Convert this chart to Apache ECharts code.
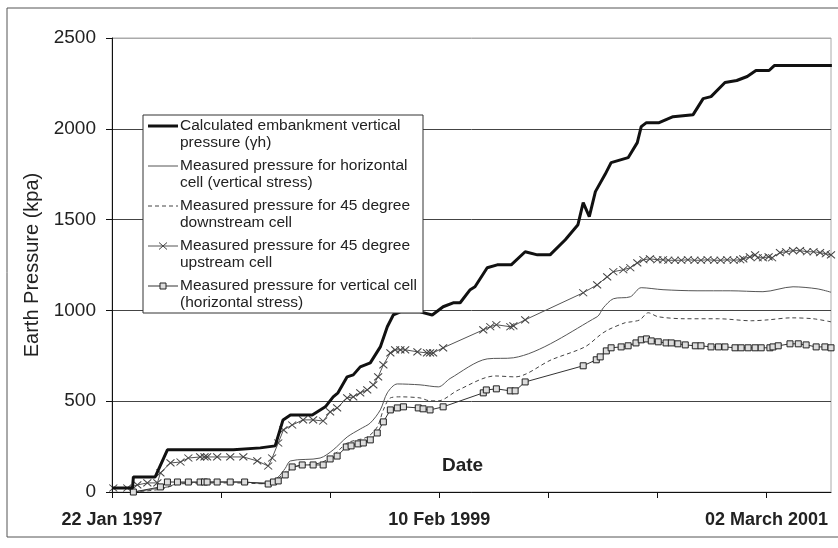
<!DOCTYPE html>
<html>
<head>
<meta charset="utf-8">
<title>Earth Pressure</title>
<script src="https://cdn.jsdelivr.net/npm/echarts@6/dist/echarts.min.js"></script>
<style>
  html, body { margin: 0; padding: 0; background: #fff; }
  #chart { width: 838px; height: 548px; }
</style>
</head>
<body>
<div id="chart"></div>
<script>
// x = days since 22 Jan 1997, y = earth pressure (kPa)
const tickDays = [0, 250, 500, 750, 1000, 1250, 1500]
const labelDays = [0, 750, 1500]
const dateLabels = ['22 Jan 1997', '10 Feb 1999', '02 March 2001']
const yTicks = [0, 500, 1000, 1500, 2000, 2500]

const seriesNames = [
  'Calculated embankment vertical\npressure (γh)',
  'Measured pressure for horizontal\ncell (vertical stress)',
  'Measured pressure for 45 degree\ndownstream cell',
  'Measured pressure for 45 degree\nupstream cell',
  'Measured pressure for vertical cell\n(horizontal stress)'
]

const calculated = [
  [0, 22], [47, 22], [49, 83], [99, 83], [127, 232], [278, 232], [340, 243], [374, 254],
  [392, 397], [409, 424], [459, 424], [489, 469], [507, 524], [518, 546], [539, 634],
  [553, 645], [569, 689], [592, 711], [615, 799], [631, 910], [645, 976], [661, 992],
  [706, 992], [734, 975], [759, 1020], [782, 1042], [798, 1042], [821, 1114], [832, 1130],
  [860, 1235], [883, 1251], [915, 1251], [947, 1323], [975, 1306], [1004, 1306],
  [1039, 1389], [1068, 1472], [1080, 1593], [1094, 1516], [1108, 1654], [1130, 1748],
  [1144, 1814], [1183, 1841], [1204, 1924], [1213, 2012], [1225, 2034], [1254, 2034],
  [1286, 2067], [1332, 2078], [1355, 2166], [1373, 2177], [1405, 2255], [1432, 2266],
  [1456, 2288], [1476, 2321], [1506, 2321], [1518, 2348], [1650, 2348]
]

const horizontalCell = [
  [49, 0], [111, 22], [127, 28], [157, 50], [278, 55], [358, 50], [381, 83], [397, 130],
  [409, 171], [477, 187], [507, 232], [539, 303], [569, 347], [592, 380], [615, 452],
  [631, 546], [654, 595], [706, 590], [748, 579], [775, 625], [860, 733], [920, 739],
  [1112, 965], [1126, 1014], [1149, 1064], [1188, 1075], [1213, 1125], [1263, 1114],
  [1341, 1108], [1417, 1108], [1492, 1103], [1561, 1130], [1616, 1119], [1648, 1100]
]

const downstream = [
  [49, 0], [111, 15], [157, 45], [278, 50], [358, 45], [381, 75], [413, 135], [477, 160],
  [507, 200], [539, 270], [585, 303], [608, 358], [622, 452], [638, 518], [661, 524],
  [706, 518], [729, 502], [748, 502], [794, 562], [878, 639], [924, 634], [1007, 728],
  [1084, 799], [1119, 865], [1137, 893], [1176, 932], [1190, 937], [1210, 948],
  [1229, 987], [1252, 965], [1314, 954], [1390, 954], [1465, 943], [1504, 948],
  [1556, 959], [1607, 954], [1648, 937]
]

const upstream = [
  [3, 22], [35, 22], [58, 39], [81, 50], [104, 50], [111, 105], [134, 160], [157, 165],
  [175, 187], [202, 193], [212, 193], [218, 193], [241, 193], [271, 193], [301, 193],
  [333, 171], [358, 143], [367, 187], [381, 270], [393, 342], [413, 369], [438, 397],
  [461, 397], [484, 391], [500, 441], [516, 463], [539, 518], [553, 524], [569, 546],
  [585, 562], [599, 590], [610, 634], [622, 700], [638, 766], [649, 783], [661, 783],
  [672, 783], [700, 772], [722, 766], [729, 766], [736, 766], [759, 794], [851, 893],
  [867, 910], [881, 921], [913, 910], [920, 915], [947, 948], [1080, 1097], [1112, 1141],
  [1135, 1185], [1149, 1213], [1172, 1224], [1188, 1235], [1204, 1262], [1218, 1279],
  [1233, 1284], [1250, 1279], [1263, 1279], [1275, 1276], [1290, 1276], [1305, 1276],
  [1320, 1279], [1335, 1276], [1350, 1276], [1365, 1279], [1380, 1276], [1395, 1276],
  [1410, 1279], [1425, 1276], [1440, 1279], [1447, 1284], [1462, 1295], [1474, 1306],
  [1480, 1290], [1492, 1290], [1505, 1295], [1513, 1290], [1531, 1318], [1545, 1323],
  [1561, 1329], [1577, 1329], [1593, 1323], [1608, 1323], [1623, 1318], [1636, 1312],
  [1648, 1306]
]

const verticalCell = [
  [49, 0], [111, 28], [127, 55], [150, 55], [175, 55], [202, 55], [212, 55], [218, 55],
  [241, 55], [271, 55], [304, 55], [358, 44], [370, 55], [381, 61], [397, 94], [413, 138],
  [436, 149], [461, 149], [484, 149], [500, 182], [516, 198], [537, 248], [548, 254],
  [564, 265], [576, 270], [592, 287], [608, 325], [622, 386], [638, 452], [654, 463],
  [668, 469], [702, 463], [713, 458], [729, 452], [759, 469], [851, 546], [858, 562],
  [881, 568], [913, 557], [924, 557], [947, 606], [1080, 695], [1110, 728], [1119, 744],
  [1133, 777], [1144, 794], [1167, 799], [1183, 805], [1201, 821], [1213, 838],
  [1225, 843], [1236, 832], [1252, 827], [1270, 821], [1282, 821], [1297, 816],
  [1314, 810], [1337, 805], [1350, 805], [1373, 799], [1390, 799], [1405, 799],
  [1428, 794], [1442, 794], [1458, 794], [1474, 794], [1488, 794], [1508, 794],
  [1515, 799], [1527, 805], [1554, 816], [1573, 816], [1591, 810], [1614, 799],
  [1634, 799], [1648, 794]
]

const FONT = 'Liberation Sans, Arial, sans-serif'
const CROSS = 'path://M0,0L10,10M0,10L10,0'

// legend drawn by hand so the icon sits on the first text line
function legendGraphic() {
  const items = []
  const x0 = 148
  const x1 = 178
  items.push({
    type: 'rect', shape: { x: 143, y: 115, width: 280, height: 198 },
    style: { fill: '#fff', stroke: '#333', lineWidth: 1 }, z: 100
  })
  const strokes = [
    { lineWidth: 3, stroke: '#111' },
    { lineWidth: 1, stroke: '#555' },
    { lineWidth: 1, stroke: '#444', lineDash: [4, 3] },
    { lineWidth: 1, stroke: '#555' },
    { lineWidth: 1, stroke: '#333' }
  ]
  seriesNames.forEach((name, i) => {
    const yc = 126 + 40 * i
    items.push({
      type: 'line', shape: { x1: x0, y1: yc, x2: x1, y2: yc },
      style: strokes[i], z: 101
    })
    if (i === 3) {
      items.push({
        type: 'polyline', shape: { points: [[159, yc - 3.5], [167, yc + 3.5]] },
        style: { stroke: '#444', lineWidth: 1 }, z: 102
      })
      items.push({
        type: 'polyline', shape: { points: [[159, yc + 3.5], [167, yc - 3.5]] },
        style: { stroke: '#444', lineWidth: 1 }, z: 102
      })
    }
    if (i === 4) {
      items.push({
        type: 'rect', shape: { x: 160, y: yc - 3, width: 6, height: 6 },
        style: { fill: '#ddd', stroke: '#222', lineWidth: 1 }, z: 102
      })
    }
    items.push({
      type: 'text', x: 180, y: yc - 9, z: 101,
      style: {
        text: name, fill: '#222', fontSize: 15.5, fontFamily: FONT,
        lineHeight: 17, verticalAlign: 'top'
      }
    })
  })
  // outer frame
  items.push({
    type: 'rect', shape: { x: 7, y: 8, width: 840, height: 529 },
    style: { fill: 'none', stroke: '#555', lineWidth: 1 }, z: 0
  })
  return items
}

const chart = echarts.init(document.getElementById('chart'))
chart.setOption({
  backgroundColor: '#fff',
  animation: false,
  textStyle: { fontFamily: FONT },
  grid: {
    left: 112, top: 38, right: 7, bottom: 56,
    show: true, borderColor: '#aaa', borderWidth: 1
  },
  xAxis: {
    type: 'value',
    min: 0,
    max: 1648,
    name: 'Date',
    nameLocation: 'middle',
    nameGap: -36,
    nameTextStyle: { fontSize: 19, fontWeight: 'bold', color: '#222', padding: [0, 18, 0, 0] },
    axisLine: { lineStyle: { color: '#111', width: 1 } },
    axisTick: { show: true, length: 6, customValues: tickDays, lineStyle: { color: '#111' } },
    axisLabel: {
      customValues: labelDays,
      margin: 19,
      fontSize: 18,
      fontWeight: 'bold',
      color: '#222',
      formatter: (v) => dateLabels[labelDays.indexOf(v)] || ''
    },
    splitLine: { show: false }
  },
  yAxis: {
    type: 'value',
    min: 0,
    max: 2500,
    interval: 500,
    name: 'Earth Pressure (kpa)',
    nameLocation: 'middle',
    nameGap: 70,
    nameTextStyle: { fontSize: 20, color: '#222' },
    axisLine: { show: true, lineStyle: { color: '#111', width: 1 } },
    axisTick: { show: true, length: 6, lineStyle: { color: '#111' } },
    axisLabel: {
      fontSize: 19, color: '#222', margin: 16,
      formatter: (v) => (yTicks.includes(v) ? String(v) : '')
    },
    splitLine: {
      show: true,
      lineStyle: { color: ['#444', '#444', '#444', '#444', '#444', '#aaa'], width: 1 }
    }
  },
  graphic: legendGraphic(),
  series: [
    {
      name: seriesNames[0], type: 'line', data: calculated,
      showSymbol: false, z: 5,
      lineStyle: { color: '#111', width: 3 }
    },
    {
      name: seriesNames[1], type: 'line', data: horizontalCell,
      showSymbol: false, smooth: 0.3,
      lineStyle: { color: '#555', width: 1 }
    },
    {
      name: seriesNames[2], type: 'line', data: downstream,
      showSymbol: false, smooth: 0.3,
      lineStyle: { color: '#444', width: 1, type: [4, 3] }
    },
    {
      name: seriesNames[3], type: 'line', data: upstream,
      symbol: CROSS, symbolSize: [8, 7], showAllSymbol: true,
      lineStyle: { color: '#555', width: 1 },
      itemStyle: { color: 'transparent', borderColor: '#444', borderWidth: 1 }
    },
    {
      name: seriesNames[4], type: 'line', data: verticalCell,
      symbol: 'rect', symbolSize: 6, showAllSymbol: true,
      lineStyle: { color: '#333', width: 1 },
      itemStyle: { color: '#ddd', borderColor: '#222', borderWidth: 1 }
    }
  ]
})
</script>
</body>
</html>
